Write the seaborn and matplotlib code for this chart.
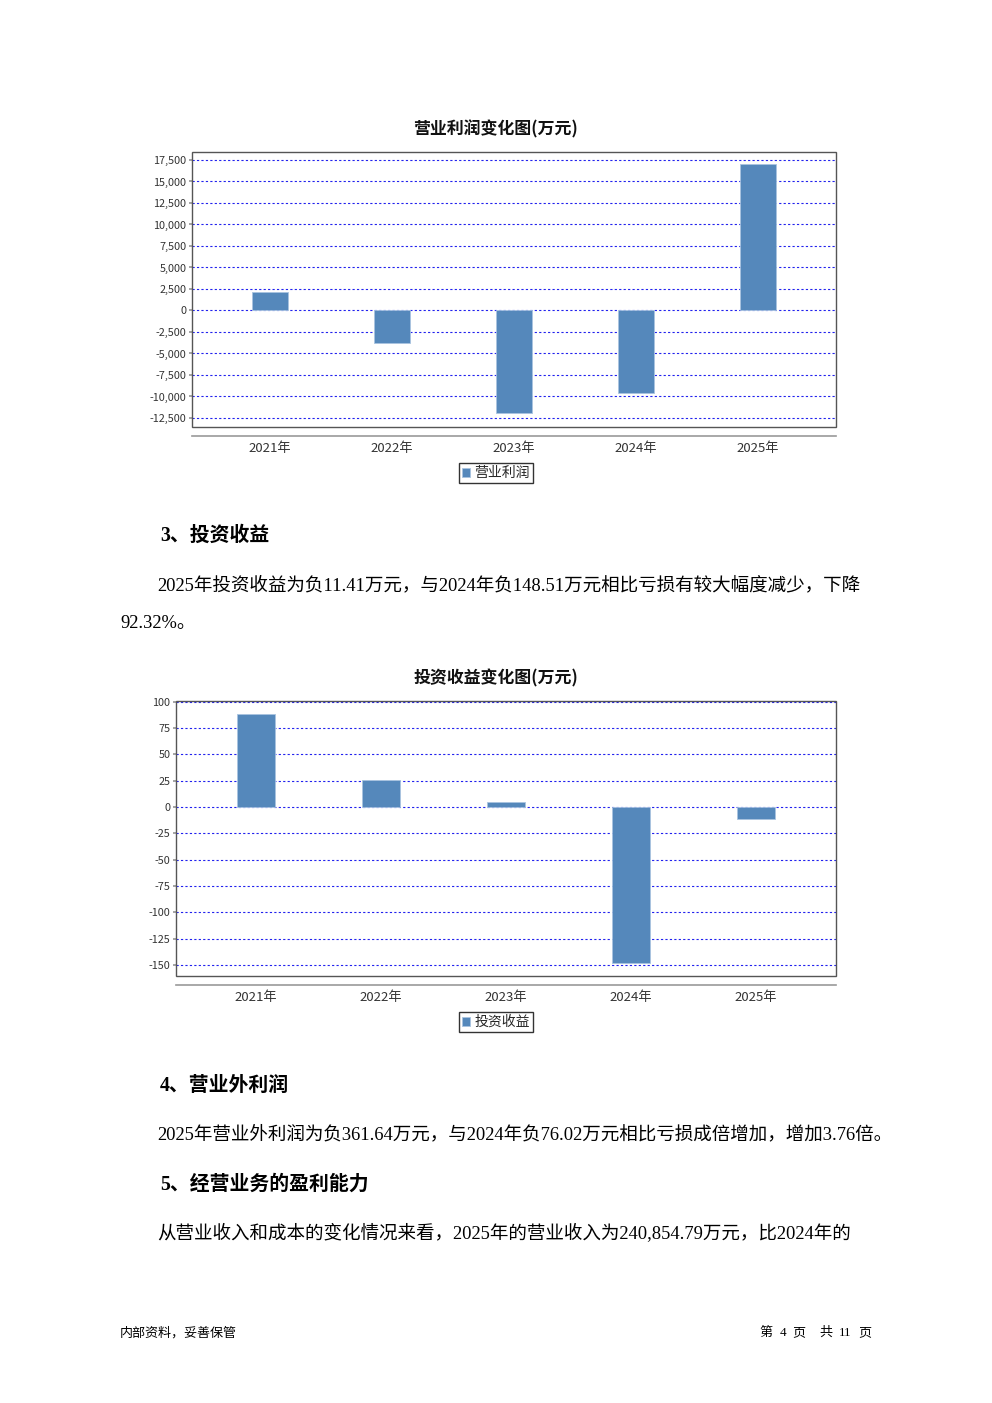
import matplotlib
matplotlib.use('Agg')
import matplotlib.pyplot as plt
import seaborn as sns
import numpy as np
from matplotlib.patches import Rectangle
from matplotlib.ticker import FuncFormatter, MultipleLocator

years = ['2021年', '2022年', '2023年', '2024年', '2025年']
op_profit = [2200, -3750, -11950, -9550, 16980]
inv_income = [88.5, 25.6, 4.8, -148.51, -11.41]

sns.set_theme(style='white')
plt.rcParams['font.family'] = ['Noto Sans CJK SC', 'DejaVu Sans']
serif = ['Liberation Serif', 'Noto Sans CJK SC']

W, H = 992, 1403
fig = plt.figure(figsize=(W / 100, H / 100), dpi=100)
fig.patch.set_facecolor('white')

BAR = '#5588bb'


def fy(px):
    return 1 - px / H


def draw_chart(rect, values, title, label, ylim, step, title_y, legend_y):
    l, t, r, b = rect
    ax = fig.add_axes([l / W, fy(b), (r - l) / W, (b - t) / H])
    sns.barplot(x=years, y=values, color=BAR, width=0.3, ax=ax,
                label=label, saturation=1, edgecolor='#a9c4e0', linewidth=0.6)
    ax.set_xlim(-0.64, 4.64)
    ax.set_ylim(*ylim)
    ax.yaxis.set_major_locator(MultipleLocator(step))
    ax.yaxis.set_major_formatter(FuncFormatter(lambda v, p: f'{v:,.0f}'))
    ax.set_xlabel('')
    ax.set_ylabel('')
    ax.grid(axis='y', color='#2222ee', linestyle=(0, (2, 2)), linewidth=0.8)
    ax.set_axisbelow(True)
    for s in ['left', 'top', 'right']:
        ax.spines[s].set_visible(False)
    ax.spines['bottom'].set_position(('outward', 6.5))
    ax.spines['bottom'].set_color('#999999')
    ax.spines['bottom'].set_linewidth(1.2)
    ax.add_patch(Rectangle((0, 0), 1, 1, transform=ax.transAxes, fill=False,
                           edgecolor='#555555', linewidth=1.0, clip_on=False, zorder=5))
    ax.tick_params(axis='x', length=3, color='#999999', labelsize=9.5, labelcolor='#333333', pad=1.5)
    ax.tick_params(axis='y', length=2, color='#999999', labelsize=7.8, labelcolor='#333333', pad=2, left=True)
    fig.text(0.5, fy(title_y), title, ha='center', va='center',
             fontsize=12.2, fontweight='bold', color='#111111')
    ax.legend(loc='center', bbox_to_anchor=(0.5, fy(legend_y)), bbox_transform=fig.transFigure,
              frameon=True, fancybox=False, edgecolor='black', fontsize=10,
              handlelength=0.6, handleheight=0.6, handletextpad=0.3,
              borderpad=0.25, borderaxespad=0).get_frame().set_linewidth(1.0)
    return ax


draw_chart((192, 152, 836, 427), op_profit, '营业利润变化图(万元)', '营业利润',
           (-13550, 18430), 2500, 129, 473)
draw_chart((176, 701, 836, 976), inv_income, '投资收益变化图(万元)', '投资收益',
           (-160.5, 100.5), 25, 678, 1022)

head_kw = dict(ha='left', va='center', fontsize=14.3, fontweight='bold', family=serif, color='black')
body_kw = dict(ha='left', va='center', fontsize=13.35, family=serif, color='black')

fig.text(160 / W, fy(536), '3、投资收益', **head_kw)
fig.text(157 / W, fy(585), '2025年投资收益为负11.41万元，与2024年负148.51万元相比亏损有较大幅度减少，下降', **body_kw)
fig.text(120 / W, fy(623), '92.32%。', **body_kw)
fig.text(160 / W, fy(1086), '4、营业外利润', **head_kw)
fig.text(157 / W, fy(1134), '2025年营业外利润为负361.64万元，与2024年负76.02万元相比亏损成倍增加，增加3.76倍。', **body_kw)
fig.text(160 / W, fy(1185), '5、经营业务的盈利能力', **head_kw)
fig.text(157 / W, fy(1233), '从营业收入和成本的变化情况来看，2025年的营业收入为240,854.79万元，比2024年的', **body_kw)

foot_kw = dict(va='center', fontsize=9.4, color='black')
fig.text(120 / W, fy(1333), '内部资料，妥善保管', ha='left', **foot_kw)
for txt, xc in [('第', 766), ('4', 783), ('页', 799), ('共', 826), ('11', 845), ('页', 865)]:
    fig.text(xc / W, fy(1333), txt, ha='center', family=serif, **foot_kw)

fig.savefig('out.png', dpi=100, facecolor='white')
